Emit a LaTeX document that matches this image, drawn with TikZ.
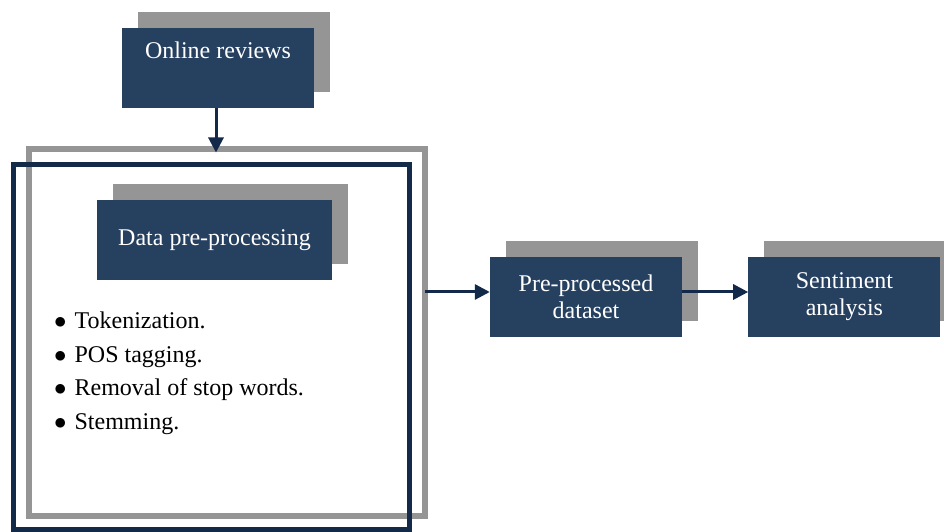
\documentclass[tikz,border=0pt]{standalone}
\usepackage{fontspec}
\setmainfont{Liberation Serif}
\usepackage{tikz}
\usetikzlibrary{
  arrows.meta,
  positioning,
  shadows
}
\definecolor{BoxNavy}{HTML}{264060}
\definecolor{FrameNavy}{HTML}{132A48}
\definecolor{ArrowNavy}{HTML}{12294A}
\definecolor{ShadowGray}{HTML}{959595}
\tikzset{
  % Dark block with grey offset shadow
  blk/.style={
    rectangle, fill=BoxNavy, text=white,
    minimum width=#1, minimum height=80pt, inner sep=2pt,
    align=center, font=\fontsize{24}{27}\selectfont,
    drop shadow={shadow xshift=16pt, shadow yshift=16pt,
      fill=ShadowGray, opacity=1}
  },
  blk/.default=192pt,
  % Open frame round the pre-processing stage
  frm/.style={
    rectangle, draw=#1, inner sep=0pt, outer sep=0pt
  },
  % Arrow
  arr/.style={
    -{Triangle[length=15pt,width=15pt]},
    line width=3pt, color=ArrowNavy
  },
  % Bullet list text
  lst/.style={inner sep=0pt, align=left, font=\fontsize{24}{33.7}\selectfont}
}
\begin{document}
\begin{tikzpicture}[x=1pt,y=1pt]
  \useasboundingbox (0,0) rectangle (944,532);

  \node[frm=ShadowGray, line width=6pt, minimum width=396pt, minimum height=366.5pt] (outer) at (227,199.25) {};
  \node[frm=FrameNavy,  line width=5pt, minimum width=396pt, minimum height=364.5pt] (inner) at (211.5,184.75) {};

  \node[blk] (rev) at (218,464) {Online reviews\\\strut};
  \node[blk=235pt] (prep) at (214.5,291.5) {Data pre-processing};
  \node[lst, anchor=north west] (steps) at (54,220.5)
    {$\bullet$\hspace{8pt}Tokenization.\\
     $\bullet$\hspace{8pt}POS tagging.\\
     $\bullet$\hspace{8pt}Removal of stop words.\\
     $\bullet$\hspace{8pt}Stemming.};

  \node[blk] (clean) at (586,235) {Pre-processed\\dataset};
  \node[blk, right=66pt of clean] (senti) {Sentiment\\analysis};

  \draw[arr, shorten >=-3pt] ([xshift=-2pt]rev.south) -- ([xshift=-2pt]rev.south |- outer.north);
  \draw[arr] ([yshift=5pt]outer.east |- clean.west) -- ([yshift=5pt]clean.west);
  \draw[arr] ([yshift=5pt]clean.east) -- ([yshift=5pt]senti.west);
\end{tikzpicture}
\end{document}
